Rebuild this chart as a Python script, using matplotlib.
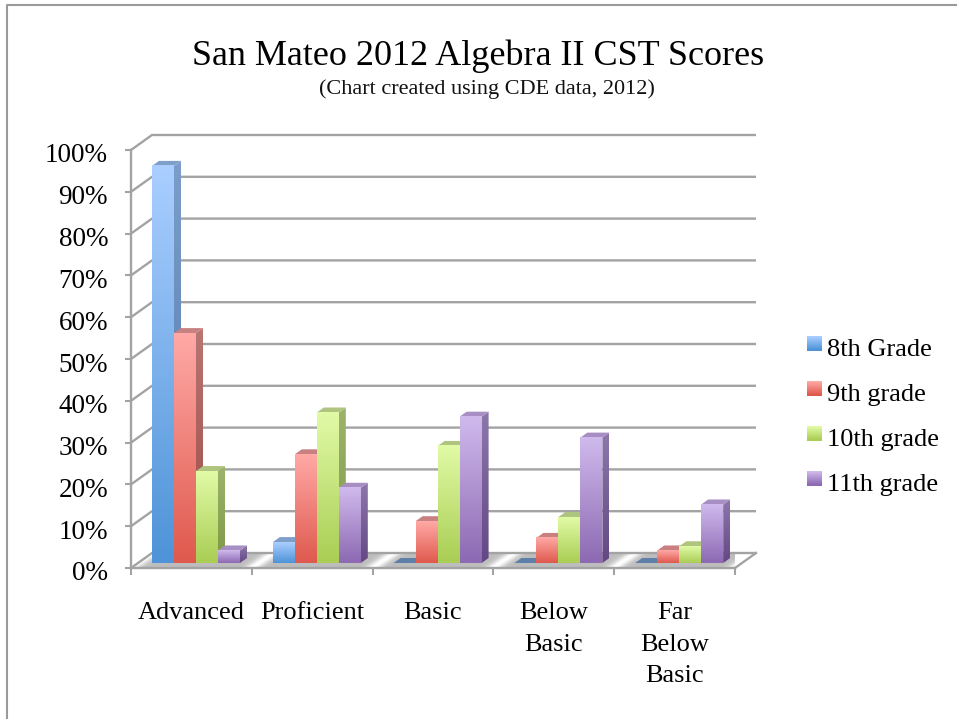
import numpy as np
import matplotlib
matplotlib.use("Agg")
import matplotlib.pyplot as plt
from matplotlib.legend_handler import HandlerBase
from matplotlib.lines import Line2D
from matplotlib.patches import Polygon, Rectangle
from matplotlib.colors import to_rgb
from matplotlib.transforms import ScaledTranslation

# ---- data ----
categories = ["Advanced", "Proficient", "Basic", "Below\nBasic", "Far\nBelow\nBasic"]
series_names = ["8th Grade", "9th grade", "10th grade", "11th grade"]
grade8 = [95, 5, 0, 0, 0]
grade9 = [55, 26, 10, 6, 3]
grade10 = [22, 36, 28, 11, 4]
grade11 = [3, 18, 35, 30, 14]
y_ticks = list(range(0, 101, 10))
y_labels = [f"{v}%" for v in y_ticks]
title_text = "San Mateo 2012 Algebra II CST Scores"
subtitle_text = "(Chart created using CDE data, 2012)"

# ---- style ----
W, H = 957, 719
SERIF = "Liberation Serif"
GRID = "#A3A3A3"
# front top, front bottom, side top, side bottom, top face
PALETTE = [
    ("#A9CEFF", "#4F94D8", "#7C9DCB", "#4E78A8", "#7F9FCB"),
    ("#FFA8A5", "#DF5A4E", "#B87572", "#9E4A44", "#C98080"),
    ("#E0FAA5", "#AACE55", "#9DB36C", "#7D9944", "#AEC47F"),
    ("#CFB9EC", "#8D6AB3", "#8C77AA", "#644884", "#A78FC3"),
]
PX_X = 604 / 5          # pixels per category
PX_Y = 418 / 100        # pixels per percent
WALL_DX, WALL_DY = 21 / PX_X, 15 / PX_Y
BAR_W = 22 / PX_X
BAR_DX, BAR_DY = 7 / PX_X, 5 / PX_Y
BAR_X0, BAR_Y0 = 21 / PX_X, 5 / PX_Y

fig = plt.figure(figsize=(W / 100, H / 100), dpi=100, facecolor="white")
ax = fig.add_axes([131 / W, (H - 568) / H, 604 / W, 418 / H])
ax.set_facecolor("none")


def vgrad(c_top, c_bot, n=32):
    a, b = np.array(to_rgb(c_top)), np.array(to_rgb(c_bot))
    t = np.linspace(0, 1, n)[:, None, None]
    return (1 - t) * a[None, None, :] + t * b[None, None, :]


# page border
fig.add_artist(Line2D([7 / W, 7 / W, 1], [0, 1 - 5 / H, 1 - 5 / H],
                      color="#9A9A9A", lw=1.5, transform=fig.transFigure))

# floor with its light reflections, one band at each category boundary
floor_poly = Polygon([(0, 0), (WALL_DX, WALL_DY), (5 + WALL_DX, WALL_DY), (5, 0)],
                     closed=True, transform=ax.transData, facecolor="none", edgecolor="none")
ax.add_patch(floor_poly)
fx = np.linspace(0, 5 + WALL_DX, 700)
fy = np.linspace(1, 0, 16)            # 1 = back of the floor, 0 = front
shade = np.full((fy.size, fx.size), 0.74)
for k in range(6):
    band = np.exp(-(((fx[None, :] - k - 2 * fy[:, None] * WALL_DX / 2) * PX_X) / 8.0) ** 2)
    shade = shade + (1 - 0.74) * band
im = ax.imshow(np.clip(shade, 0, 1), extent=(0, 5 + WALL_DX, 0, WALL_DY), cmap="gray",
               vmin=0, vmax=1, aspect="auto", origin="upper", interpolation="bilinear", zorder=1)
im.set_clip_path(floor_poly)

# walls: gridlines run back along the side wall, then across the back wall
for v in y_ticks:
    ax.plot([0, WALL_DX, 5 + WALL_DX], [v, v + WALL_DY, v + WALL_DY], color=GRID, lw=1.7,
            clip_on=False, zorder=2, solid_capstyle="butt", solid_joinstyle="miter")
ax.plot([5, 5 + WALL_DX], [0, WALL_DY], color=GRID, lw=1.7, clip_on=False, zorder=2)

# bars
series = [grade8, grade9, grade10, grade11]
z = 3.0
for c in range(len(categories)):
    for s, vals_s in enumerate(series):
        v = vals_s[c]
        x0 = c + BAR_X0 + s * BAR_W
        x1 = x0 + BAR_W
        y0 = BAR_Y0
        y1 = BAR_Y0 + v
        ftop, fbot, stop, sbot, tcol = PALETTE[s]
        z += 0.01
        if v > 0:
            side = Polygon([(x1, y0), (x1 + BAR_DX, y0 + BAR_DY), (x1 + BAR_DX, y1 + BAR_DY), (x1, y1)],
                           closed=True, transform=ax.transData, fc="none", ec="none")
            ax.add_patch(side)
            im = ax.imshow(vgrad(stop, sbot), extent=(x1, x1 + BAR_DX, y0, y1 + BAR_DY),
                           aspect="auto", origin="upper", interpolation="bilinear", zorder=z)
            im.set_clip_path(side)
            z += 0.01
        ax.add_patch(Polygon([(x0, y1), (x1, y1), (x1 + BAR_DX, y1 + BAR_DY), (x0 + BAR_DX, y1 + BAR_DY)],
                             closed=True, fc=tcol if v > 0 else "#5E7FA8", ec="none", zorder=z,
                             clip_on=False))
        z += 0.01
        if v > 0:
            ax.imshow(vgrad(ftop, fbot), extent=(x0, x1, y0, y1), aspect="auto", origin="upper",
                      interpolation="bilinear", zorder=z)

ax.set_xlim(0, 5)
ax.set_ylim(0, 100)

# axes
for name in ("top", "right"):
    ax.spines[name].set_visible(False)
for name in ("left", "bottom"):
    ax.spines[name].set_color(GRID)
    ax.spines[name].set_linewidth(1.7)
    ax.spines[name].set_zorder(2.5)
ax.set_yticks(y_ticks)
ax.set_yticklabels(y_labels, fontfamily=SERIF, fontsize=19.5, color="black")
ax.tick_params(axis="y", which="major", length=4, width=1.5, color=GRID, pad=12.5)
shift = ScaledTranslation(0, -3 / 100, fig.dpi_scale_trans)
for lab in ax.get_yticklabels():
    lab.set_transform(lab.get_transform() + shift)
ax.set_xticks(range(6))
ax.set_xticklabels([])
ax.tick_params(axis="x", which="major", length=5, width=1.5, color=GRID)
ax.set_xticks(np.arange(5) + 0.5, minor=True)
ax.set_xticklabels(categories, minor=True, fontfamily=SERIF, fontsize=19, color="black",
                   linespacing=1.56)
ax.tick_params(axis="x", which="minor", length=0, pad=24.5)

# titles
fig.text(478 / W, 1 - 56 / H, title_text, ha="center", va="center", fontfamily=SERIF,
         fontsize=26, color="black")
fig.text(486.5 / W, 1 - 89 / H, subtitle_text, ha="center", va="center", fontfamily=SERIF,
         fontsize=16, color="#111111")


# legend with gradient swatches
class GradientHandler(HandlerBase):
    def __init__(self, top, bottom):
        super().__init__()
        self.top, self.bottom = top, bottom

    def create_artists(self, legend, orig_handle, xdescent, ydescent, width, height, fontsize, trans):
        n = 14
        g = vgrad(self.top, self.bottom, n)[:, 0, :]
        h = 14.0 * 0.72
        y_base = 3.7
        arts = []
        for i in range(n):
            arts.append(Rectangle((-xdescent, y_base + h * (n - 1 - i) / n), width, h / n + 0.1,
                                  fc=g[i], ec="none", transform=trans))
        return arts


handles = [Rectangle((0, 0), 1, 1) for _ in series_names]
hmap = {h: GradientHandler(p[0], p[1]) for h, p in zip(handles, PALETTE)}
fig.legend(handles, series_names, handler_map=hmap, loc="center left",
           bbox_to_anchor=(807 / W, 1 - 416.5 / H), frameon=False, borderpad=0, borderaxespad=0,
           prop={"family": SERIF, "size": 19}, handlelength=15 * 0.72 / 19, handletextpad=0.2,
           labelspacing=0.815, labelcolor="black")

fig.savefig("out.png", dpi=100)
